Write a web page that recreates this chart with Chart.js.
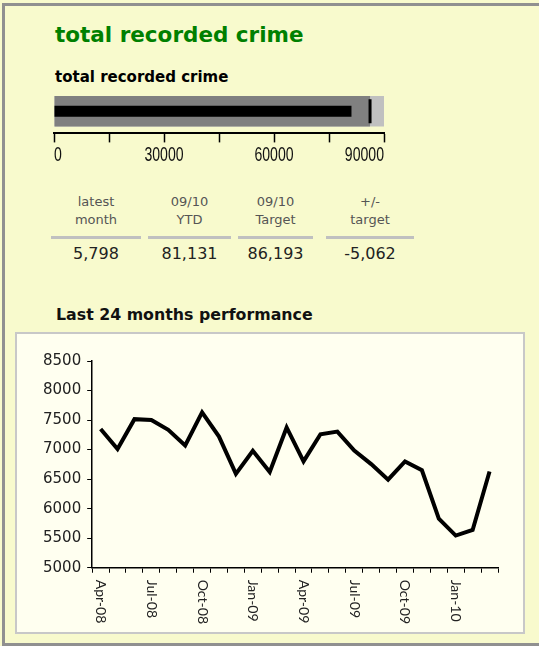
<!DOCTYPE html>
<html>
<head>
<meta charset="utf-8">
<script src="https://cdn.jsdelivr.net/npm/chart.js@4/dist/chart.umd.min.js"></script>
<style>
  html, body { margin: 0; padding: 0; }
  body {
    width: 539px; height: 646px; position: relative; overflow: hidden;
    background: #F8FACD;
    font-family: Verdana, "DejaVu Sans", sans-serif;
  }
  .frame {
    position: absolute; left: 2px; top: 3px; width: 560px; height: 643px;
    border-left: 3px solid #909090; border-top: 3px solid #909090; border-bottom: 3px solid #909090;
    box-sizing: border-box;
  }
  .title { position: absolute; left: 55px; top: 24px; font-size: 21.5px; font-weight: bold; color: #008000; line-height: 1; white-space: nowrap; }
  .subtitle { position: absolute; left: 55px; top: 70px; font-size: 15px; font-weight: bold; color: #000; line-height: 1; white-space: nowrap; }
  .section { position: absolute; left: 56px; top: 307px; font-size: 15.8px; font-weight: bold; color: #111; line-height: 1; white-space: nowrap; }
  #bulletWrap { position: absolute; left: 40px; top: 84px; width: 360px; height: 84px; }
  .col { position: absolute; top: 193px; text-align: center; }
  .col .head { font-size: 13px; line-height: 17.6px; color: #555; height: 35px; }
  .col .rule { height: 3px; background: #C0C0C0; margin-top: 8px; }
  .col .val { font-size: 16px; color: #222; margin-top: 6px; line-height: 18px; }
  .plotBox {
    position: absolute; left: 15px; top: 332px; width: 510px; height: 302px;
    background: #FFFFF0; border: 2px solid #C8C8C8; box-sizing: border-box;
  }
  #lineWrap { position: absolute; left: 17px; top: 334px; width: 506px; height: 298px; }
</style>
</head>
<body>
<div class="frame"></div>
<div class="title">total recorded crime</div>
<div class="subtitle">total recorded crime</div>
<div id="bulletWrap"><canvas id="bullet" width="360" height="84"></canvas></div>
<div id="summary"></div>
<div class="section">Last 24 months performance</div>
<div class="plotBox"></div>
<div id="lineWrap"><canvas id="trend" width="506" height="298"></canvas></div>

<script>
// monthly totals, Apr-08 .. Mar-10
const months = ['Apr-08', 'May-08', 'Jun-08', 'Jul-08', 'Aug-08', 'Sep-08', 'Oct-08', 'Nov-08', 'Dec-08',
  'Jan-09', 'Feb-09', 'Mar-09', 'Apr-09', 'May-09', 'Jun-09', 'Jul-09', 'Aug-09', 'Sep-09',
  'Oct-09', 'Nov-09', 'Dec-09', 'Jan-10', 'Feb-10', 'Mar-10']
const monthlyCrimes = [7350, 7010, 7515, 7500, 7335, 7070, 7630, 7220, 6590, 6980, 6620, 7375,
  6800, 7260, 7305, 6985, 6755, 6490, 6800, 6650, 5830, 5545, 5640, 6630]

// summary table
const summaryHeads = [['latest', 'month'], ['09/10', 'YTD'], ['09/10', 'Target'], ['+/-', 'target']]
const summaryValues = [5798, 81131, 86193, -5062]
const summaryCols = [[51, 90], [148, 83], [238, 75], [326, 88]]  // left, width

// bullet bar: ytd against target, grey ranges behind
const bulletActual = summaryValues[1]
const bulletTarget = summaryValues[2]
const bulletRanges = [86193, 90000]
const bulletMax = 90000
const bulletStep = 15000
const bulletLabelStep = 30000

const trendMin = 5000
const trendMax = 8500
const trendStep = 500

const fmt = n => n.toLocaleString('en-GB')

const summary = document.getElementById('summary')
summaryHeads.forEach((head, i) => {
    const col = document.createElement('div')
    col.className = 'col'
    col.style.left = summaryCols[i][0] + 'px'
    col.style.width = summaryCols[i][1] + 'px'
    col.innerHTML = `<div class="head">${head[0]}<br>${head[1]}</div><div class="rule"></div><div class="val">${fmt(summaryValues[i])}</div>`
    summary.appendChild(col)
})

// narrow tick numbers under the bullet; first one sits right of its tick, last one left
const narrowTicks = {
    id: 'narrowTicks',
    afterDraw(chart) {
        const scale = chart.scales.x
        const ctx = chart.ctx
        const squeeze = 0.67
        ctx.save()
        ctx.font = '21px "Liberation Sans", Arial, sans-serif'
        ctx.fillStyle = '#111'
        scale.ticks.forEach((t, i) => {
            if (t.value % bulletLabelStep) return
            const text = String(t.value)
            const x = scale.getPixelForTick(i)
            const w = ctx.measureText(text).width * squeeze
            let left = x - w / 2
            if (i === 0) left = x
            if (i === scale.ticks.length - 1) left = x - w
            ctx.save()
            ctx.translate(left, scale.top + 27.5)
            ctx.scale(squeeze, 1)
            ctx.fillText(text, 0, 0)
            ctx.restore()
        })
        ctx.restore()
    }
}

new Chart(document.getElementById('bullet'), {
    type: 'bar',
    data: {
        labels: ['total recorded crime'],
        datasets: [
            {
                type: 'line', indexAxis: 'y', data: [bulletTarget], order: 0,
                showLine: false, pointStyle: 'line', pointRotation: 90, pointRadius: 12,
                pointBorderWidth: 3, pointBorderColor: '#000', borderColor: '#000'
            },
            { data: [bulletActual], backgroundColor: '#000', barPercentage: 0.36, categoryPercentage: 0.69, order: 1 },
            { data: [bulletRanges[0]], backgroundColor: '#808080', barPercentage: 1, categoryPercentage: 0.69, order: 2 },
            { data: [bulletRanges[1]], backgroundColor: '#C0C0C0', barPercentage: 1, categoryPercentage: 0.69, order: 3 }
        ]
    },
    options: {
        indexAxis: 'y',
        responsive: false,
        animation: false,
        datasets: { bar: { grouped: false } },
        layout: { autoPadding: false, padding: { left: 14, right: 16, top: 5, bottom: 0 } },
        plugins: { legend: { display: false }, tooltip: { enabled: false } },
        scales: {
            x: {
                min: 0, max: bulletMax,
                ticks: {
                    stepSize: bulletStep, autoSkip: false, maxRotation: 0, align: 'inner',
                    callback: v => v % bulletLabelStep === 0 ? String(v) : '',
                    font: { size: 18 }, color: 'transparent', padding: 2
                },
                grid: { drawOnChartArea: false, tickLength: 9, tickColor: '#000', tickWidth: 1.5 },
                border: { color: '#000', width: 2 }
            },
            y: { display: false }
        }
    },
    plugins: [narrowTicks]
})

// x labels read top-to-bottom, so they are drawn here instead of by the axis
const downwardLabels = {
    id: 'downwardLabels',
    afterDraw(chart) {
        const scale = chart.scales.x
        const ctx = chart.ctx
        ctx.save()
        ctx.font = '14px Lato'
        ctx.fillStyle = '#222'
        ctx.textAlign = 'left'
        ctx.textBaseline = 'middle'
        months.forEach((m, i) => {
            if (i % 3) return
            ctx.save()
            ctx.translate(scale.getPixelForTick(i), scale.top + 12)
            ctx.rotate(Math.PI / 2)
            ctx.fillText(m, 0, 0)
            ctx.restore()
        })
        ctx.restore()
    }
}

new Chart(document.getElementById('trend'), {
    type: 'line',
    data: {
        labels: months,
        datasets: [{
            data: monthlyCrimes,
            borderColor: '#000', borderWidth: 4, pointRadius: 0,
            tension: 0, borderJoinStyle: 'miter'
        }]
    },
    options: {
        responsive: false,
        animation: false,
        layout: { autoPadding: false, padding: { left: 20, right: 25, top: 27, bottom: 1 } },
        plugins: { legend: { display: false }, tooltip: { enabled: false } },
        scales: {
            x: {
                offset: true,
                ticks: {
                    autoSkip: false, minRotation: 90, maxRotation: 90,
                    callback: (v, i) => i % 3 ? '' : months[i],
                    font: { family: 'Lato', size: 14 }, color: 'transparent', padding: 7
                },
                grid: { offset: true, drawOnChartArea: false, tickLength: 5, tickColor: '#000', tickWidth: 1 },
                border: { color: '#000', width: 1.5 }
            },
            y: {
                min: trendMin, max: trendMax,
                ticks: {
                    stepSize: trendStep,
                    callback: v => String(v),
                    font: { family: '"DejaVu Sans", Verdana, sans-serif', size: 15 },
                    color: '#222', padding: 6
                },
                grid: { drawOnChartArea: false, tickLength: 5, tickColor: '#000', tickWidth: 1 },
                border: { color: '#000', width: 1.5 }
            }
        }
    },
    plugins: [downwardLabels]
})
</script>
</body>
</html>
